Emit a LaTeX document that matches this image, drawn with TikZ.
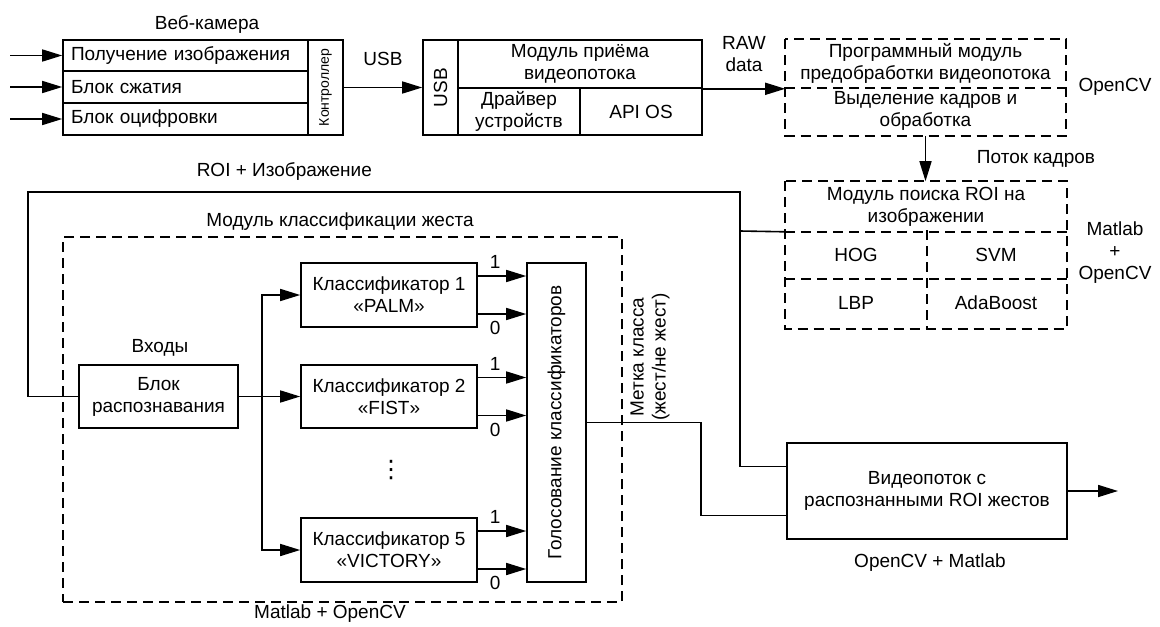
\documentclass[tikz,border=0pt]{standalone}
\usepackage{fontspec}
\setmainfont{Liberation Sans}
\newfontfamily\symfont{DejaVu Sans}
\usepackage{tikz}
\usetikzlibrary{positioning,arrows.meta,calc}
\definecolor{ink}{RGB}{0,0,0}
\tikzset{
  blk/.style={draw=ink,line width=0.8pt,inner sep=0pt,align=center},
  cell/.style={blk,inner xsep=4pt,text width=114.5pt,align=left,minimum height=#1},
  dcell/.style={inner sep=0pt,align=center},
  dline/.style={draw=ink,line width=0.8pt,dash pattern=on 5pt off 3pt},
  lbl/.style={align=center}
}

\begin{document}
\begin{tikzpicture}[x=0.5pt,y=-0.5pt,font=\fontsize{9.5}{11}\selectfont,
    line width=0.8pt,>={Triangle[length=10pt,width=6pt]}]
  \useasboundingbox (0,0) rectangle (1160,626);

  % web camera
  \node[lbl] (camt) at (207,25) {Веб-камера};
  \node[cell=15.5pt] (cam1) at (185.5,55.5) {Получение изображения};
  \node[cell=16pt] (cam2) at (185.5,87) {Блок сжатия};
  \node[cell=16pt] (cam3) at (185.5,119) {Блок оцифровки};
  \node[blk,minimum width=17.5pt,minimum height=47.5pt,
        font=\fontsize{7}{8}\selectfont] (ctrl) at (325.5,87.5) {\rotatebox{90}{Контроллер}};

  % receiving module
  \node[blk,minimum width=17.5pt,minimum height=47.5pt] (usbc) at (440.5,87.5) {\rotatebox{90}{USB}};
  \node[blk,minimum width=122pt,minimum height=24pt] (recv) at (580,64) {Модуль приёма\\видеопотока};
  \node[blk,minimum width=61pt,minimum height=23.5pt] (drv) at (519,111.5) {Драйвер\\устройств};
  \node[blk,minimum width=61pt,minimum height=23.5pt] (api) at (641,111.5) {API OS};

  % preprocessing
  \node[dcell,minimum width=139.5pt,minimum height=23.5pt] (pre1) at (925.5,63.5)
    {Программный модуль\\предобработки видеопотока};
  \node[dcell,minimum width=139.5pt,minimum height=24pt] (pre2) at (925.5,111)
    {Выделение кадров и\\обработка};
  \draw[dline] (pre1.north west) rectangle (pre2.south east);
  \draw[dline] (pre1.south west) -- (pre1.south east);
  \node[lbl] (ocv1) at (1115,87) {OpenCV};

  % ROI search
  \node[dcell,minimum width=140pt,minimum height=24.5pt] (roi) at (926,206.5)
    {Модуль поиска ROI на\\изображении};
  \node[dcell,minimum width=70pt,minimum height=23.5pt] (hog) at (856,254.5) {HOG};
  \node[dcell,minimum width=70pt,minimum height=23.5pt] (svm) at (996,254.5) {SVM};
  \node[dcell,minimum width=70pt,minimum height=25pt] (lbp) at (856,303) {LBP};
  \node[dcell,minimum width=70pt,minimum height=25pt] (ada) at (996,303) {AdaBoost};
  \draw[dline] (roi.north west) rectangle (ada.south east);
  \draw[dline] (roi.south west) -- (roi.south east);
  \draw[dline] (hog.south west) -- (svm.south east);
  \draw[dline] (hog.north east) -- (lbp.south east);
  \node[lbl] (ocv2) at (1115,253) {Matlab\\+\\OpenCV};

  % gesture classification
  \node[dline,minimum width=279.5pt,minimum height=182.5pt] (cls) at (342.5,419.5) {};
  \node[lbl] (clst) at (340,222) {Модуль классификации жеста};
  \node[lbl] (clsb) at (330,614) {Matlab + OpenCV};
  \node[lbl] (inp) at (160,348) {Входы};
  \node[blk,minimum width=79.5pt,minimum height=31.5pt] (rec) at (158.5,396.5) {Блок\\распознавания};
  \node[blk,minimum width=88pt,minimum height=32pt] (k1) at (389,295) {Классификатор 1\\«PALM»};
  \node[blk,minimum width=88pt,minimum height=31.5pt] (k2) at (389,396.5) {Классификатор 2\\«FIST»};
  \node[blk,minimum width=88pt,minimum height=32pt] (k5) at (389,550) {Классификатор 5\\«VICTORY»};
  \node[lbl,font=\symfont\fontsize{12}{12}\selectfont] (dots) at (391,470) {⋮};
  \node[blk,minimum width=29.5pt,minimum height=159.5pt] (vote) at (556.5,422.5)
    {\rotatebox{90}{Голосование классификаторов}};
  \node[lbl,rotate=90] (mark) at (650,357) {Метка класса\\(жест/не жест)};

  % output
  \node[blk,minimum width=140pt,minimum height=48pt] (video) at (927,491)
    {Видеопоток с\\распознанными ROI жестов};
  \node[lbl] (videob) at (930,563) {OpenCV + Matlab};

  \coordinate (in1) at (10,55.5);
  \coordinate (in2) at (10,87);
  \coordinate (in3) at (10,119);
  \coordinate (jn) at (740,231);
  \coordinate (tr) at (740,192);
  \coordinate (tl) at (28,192);
  \coordinate (vbend) at (701,422.5);
  \coordinate (out) at (1118,491);
  \coordinate (br) at ($(rec.east)!0.38!(k2.west)$);

  \foreach \c/\i in {cam1/in1,cam2/in2,cam3/in3}
    \draw[->] (\i) -- (\c.west);
  \draw[->] (ctrl) -- (usbc) node[midway,above=7pt] {USB};
  \draw[->] (recv.south east) -- (recv.south east -| pre1.west)
    node[midway,above=5pt,align=center] {RAW\\data};
  \draw[->] (pre2.south) -- (pre2.south |- roi.north) node[midway,right=22pt] {Поток кадров};

  \draw (roi.south west) -- (jn);
  \draw (jn) -- (tr) -- node[pos=0.64,above=2pt] {ROI + Изображение} (tl) |- (rec.west);
  \draw (jn) |- ($(video.north west)!0.25!(video.south west)$);
  \draw (vote.east) -- (vbend) |- ($(video.north west)!0.75!(video.south west)$);
  \draw[->] (video.east) -- (out);

  \draw[->] (rec.east) -- (k2.west);
  \draw[->] (br) |- (k1.west);
  \draw[->] (br) |- (k5.west);
  \foreach \k in {k1,k2,k5}{
    \draw[->] ([yshift=9.5pt]\k.east) -- ([yshift=9.5pt]\k.east -| vote.west)
      node[pos=0.36,above] {1};
    \draw[->] ([yshift=-9.5pt]\k.east) -- ([yshift=-9.5pt]\k.east -| vote.west)
      node[pos=0.36,below] {0};
  }
\end{tikzpicture}
\end{document}
